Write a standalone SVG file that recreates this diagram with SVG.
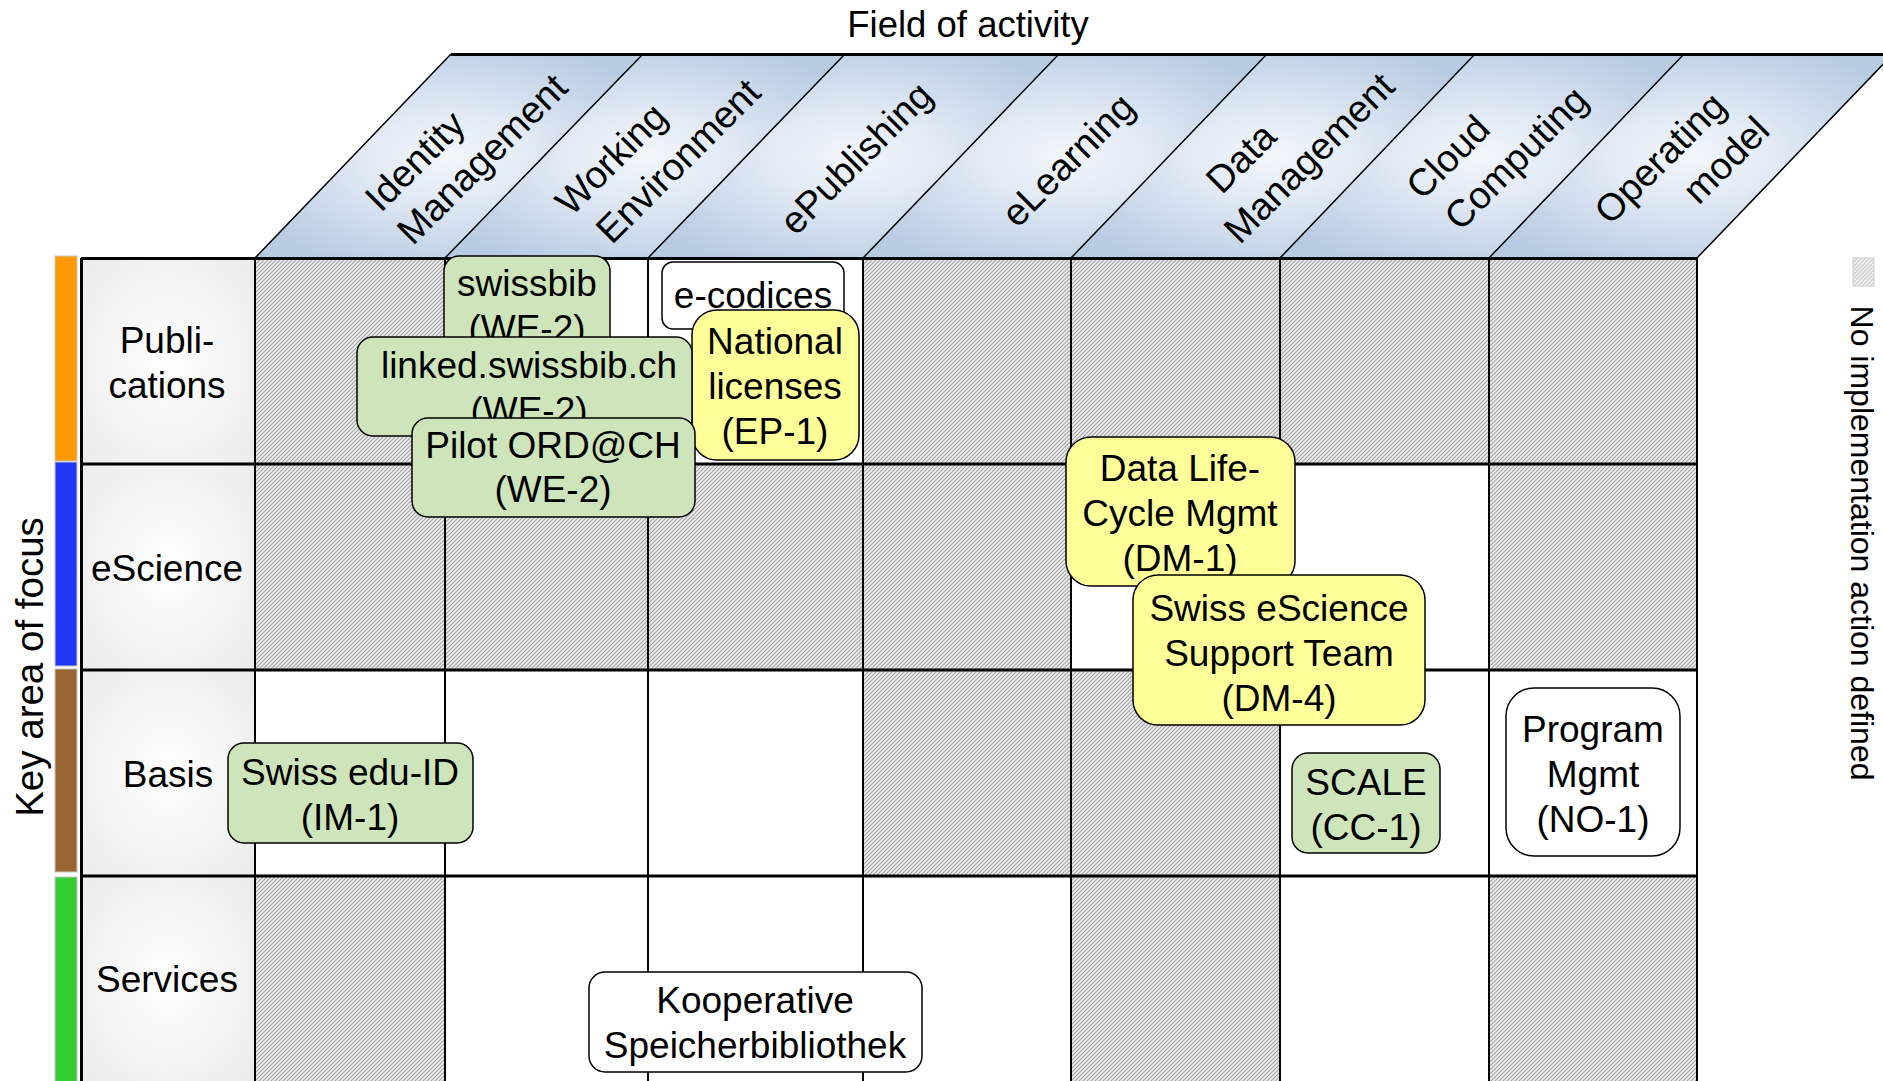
<svg xmlns="http://www.w3.org/2000/svg" width="1883" height="1081" viewBox="0 0 1883 1081">
<style>
.t{font-family:"Liberation Sans",Arial,sans-serif;fill:#000}
.n{font-size:37px;text-anchor:middle}
.h{font-size:38px;text-anchor:middle}
.box{stroke:#000;stroke-width:1.5}
.gr{fill:#cee5bb}
.ye{fill:#ffff99}
.wh{fill:#ffffff}
.hline{stroke:#000;stroke-width:3;fill:none}
.vline{stroke:#000;stroke-width:2;fill:none}
.sl{stroke:#000;stroke-width:1.5;fill:none}
.hdr{fill:url(#hdrG)}
.lbl{fill:url(#lblG)}
.hat{fill:url(#hatch)}
.bar{stroke:#c8c8c8;stroke-width:1}
</style>
<defs>
<pattern id="hatch" patternUnits="userSpaceOnUse" width="4" height="4">
<rect width="4" height="4" fill="#ededed"/>
<path d="M-1,1 L1,-1 M0,4 L4,0 M3,5 L5,3" stroke="#a6a6a6" stroke-width="1.2"/>
</pattern>
<pattern id="hatchL" patternUnits="userSpaceOnUse" width="4" height="4">
<rect width="4" height="4" fill="#f4f4f4"/>
<path d="M-1,1 L1,-1 M0,4 L4,0 M3,5 L5,3" stroke="#cfcfcf" stroke-width="1.4"/>
</pattern>
<radialGradient id="hdrG" cx="0.5" cy="0.5" r="0.6">
<stop offset="0" stop-color="#f2f6fb"/>
<stop offset="0.35" stop-color="#e2eaf5"/>
<stop offset="1" stop-color="#b7cbe3"/>
</radialGradient>
<radialGradient id="lblG" cx="0.5" cy="0.5" r="0.65">
<stop offset="0" stop-color="#ffffff"/>
<stop offset="1" stop-color="#ececec"/>
</radialGradient>
</defs>
<rect width="1883" height="1081" fill="#fff"/>

<text class="t" x="968" y="37" font-size="36.5" text-anchor="middle">Field of activity</text>

<g id="header">
<polygon class="hdr" points="255,258 445,258 643,54 451,54"/>
<polygon class="hdr" points="445,258 648,258 845,54 643,54"/>
<polygon class="hdr" points="648,258 863,258 1059,54 845,54"/>
<polygon class="hdr" points="863,258 1071,258 1267,54 1059,54"/>
<polygon class="hdr" points="1071,258 1280,258 1475,54 1267,54"/>
<polygon class="hdr" points="1280,258 1489,258 1684,54 1475,54"/>
<polygon class="hdr" points="1489,258 1697,258 1893,54 1684,54"/>
<path class="sl" d="M255,258 L451,54 M445,258 L643,54 M648,258 L845,54 M863,258 L1059,54 M1071,258 L1267,54 M1280,258 L1475,54 M1489,258 L1684,54 M1697,258 L1893,54"/>
<path class="hline" d="M451,54.5 L1883,54.5"/>
<g class="t h">
<text transform="translate(415,161) rotate(-45)" y="13">Identity</text>
<text transform="translate(482,159) rotate(-45)" y="13">Management</text>
<text transform="translate(611,159) rotate(-45)" y="13">Working</text>
<text transform="translate(678,161) rotate(-45)" y="13">Environment</text>
<text transform="translate(856,158) rotate(-45)" y="13">ePublishing</text>
<text transform="translate(1068,160) rotate(-45)" y="13">eLearning</text>
<text transform="translate(1241,158) rotate(-45)" y="13">Data</text>
<text transform="translate(1309,158) rotate(-45)" y="13">Management</text>
<text transform="translate(1448,157) rotate(-45)" y="13">Cloud</text>
<text transform="translate(1516,158) rotate(-45)" y="13">Computing</text>
<text transform="translate(1660,158) rotate(-45)" y="13">Operating</text>
<text transform="translate(1726,160) rotate(-45)" y="13">model</text>
</g>
</g>

<g id="cells">
<rect class="hat" x="255" y="258" width="190" height="206"/>
<rect class="wh" x="445" y="258" width="203" height="206"/>
<rect class="wh" x="648" y="258" width="215" height="206"/>
<rect class="hat" x="863" y="258" width="208" height="206"/>
<rect class="hat" x="1071" y="258" width="209" height="206"/>
<rect class="hat" x="1280" y="258" width="209" height="206"/>
<rect class="hat" x="1489" y="258" width="208" height="206"/>

<rect class="hat" x="255" y="464" width="190" height="206"/>
<rect class="hat" x="445" y="464" width="203" height="206"/>
<rect class="hat" x="648" y="464" width="215" height="206"/>
<rect class="hat" x="863" y="464" width="208" height="206"/>
<rect class="wh" x="1071" y="464" width="209" height="206"/>
<rect class="wh" x="1280" y="464" width="209" height="206"/>
<rect class="hat" x="1489" y="464" width="208" height="206"/>

<rect class="wh" x="255" y="670" width="190" height="206"/>
<rect class="wh" x="445" y="670" width="203" height="206"/>
<rect class="wh" x="648" y="670" width="215" height="206"/>
<rect class="hat" x="863" y="670" width="208" height="206"/>
<rect class="hat" x="1071" y="670" width="209" height="206"/>
<rect class="wh" x="1280" y="670" width="209" height="206"/>
<rect class="wh" x="1489" y="670" width="208" height="206"/>

<rect class="hat" x="255" y="876" width="190" height="210"/>
<rect class="wh" x="445" y="876" width="203" height="210"/>
<rect class="wh" x="648" y="876" width="215" height="210"/>
<rect class="wh" x="863" y="876" width="208" height="210"/>
<rect class="hat" x="1071" y="876" width="209" height="210"/>
<rect class="wh" x="1280" y="876" width="209" height="210"/>
<rect class="hat" x="1489" y="876" width="208" height="210"/>

<rect class="lbl" x="81" y="258" width="174" height="206"/>
<rect class="lbl" x="81" y="464" width="174" height="206"/>
<rect class="lbl" x="81" y="670" width="174" height="206"/>
<rect class="lbl" x="81" y="876" width="174" height="210"/>
</g>

<g id="grid">
<path class="vline" d="M445,258 V1081 M648,258 V1081 M863,258 V1081 M1071,258 V1081 M1280,258 V1081 M1489,258 V1081 M1697,258 V1081 M255,258 V1081"/>
<path class="hline" d="M81,258.5 H1697 M81,464 H1697 M81,670 H1697 M81,876 H1697 M81.5,258 V1081"/>
</g>

<g id="bars">
<rect class="bar" x="55" y="256" width="22" height="205" fill="#ff9900"/>
<rect class="bar" x="55" y="462" width="22" height="204" fill="#2236f5"/>
<rect class="bar" x="55" y="669" width="22" height="203" fill="#996633"/>
<rect class="bar" x="55" y="877" width="22" height="210" fill="#33cc33"/>
</g>

<g id="rowlabels" class="t n">
<text x="167" y="353">Publi-</text>
<text x="167" y="398">cations</text>
<text x="167" y="581">eScience</text>
<text x="168" y="787">Basis</text>
<text x="167" y="992">Services</text>
</g>

<text class="t" transform="translate(43,667) rotate(-90)" font-size="38.5" text-anchor="middle">Key area of focus</text>

<g id="legend">
<rect x="1853" y="258" width="21" height="28" fill="url(#hatchL)" stroke="#d0d0d0" stroke-width="1"/>
<text class="t" transform="translate(1851,543) rotate(90)" font-size="32" text-anchor="middle">No implementation action defined</text>
</g>

<g id="connectors"></g>

<g id="n-swissbib">
<rect class="box gr" x="444" y="256" width="166" height="94" rx="15"/>
<text class="t n" x="527" y="296">swissbib</text>
<text class="t n" x="527" y="341">(WE-2)</text>
</g>
<g id="n-ecodices">
<rect class="box wh" x="662" y="262" width="182" height="67" rx="11"/>
<text class="t n" x="753" y="308">e-codices</text>
</g>
<g id="n-national">
<rect class="box ye" x="692" y="310" width="167" height="150" rx="25"/>
<text class="t n" x="775" y="354">National</text>
<text class="t n" x="775" y="399">licenses</text>
<text class="t n" x="775" y="444">(EP-1)</text>
</g>
<g id="n-linked">
<rect class="box gr" x="357" y="337" width="335" height="99" rx="16"/>
<text class="t n" x="529" y="378">linked.swissbib.ch</text>
<text class="t n" x="529" y="423">(WE-2)</text>
</g>
<g id="n-pilot">
<rect class="box gr" x="412" y="418" width="283" height="99" rx="16"/>
<text class="t n" x="553" y="458">Pilot ORD@CH</text>
<text class="t n" x="553" y="502">(WE-2)</text>
</g>
<g id="n-dm1">
<rect class="box ye" x="1066" y="437" width="229" height="149" rx="25"/>
<text class="t n" x="1180" y="481">Data Life-</text>
<text class="t n" x="1180" y="526">Cycle Mgmt</text>
<text class="t n" x="1180" y="571">(DM-1)</text>
</g>
<g id="n-dm4">
<rect class="box ye" x="1133" y="575" width="292" height="150" rx="25"/>
<text class="t n" x="1279" y="621">Swiss eScience</text>
<text class="t n" x="1279" y="666">Support Team</text>
<text class="t n" x="1279" y="711">(DM-4)</text>
</g>
<g id="n-eduid">
<rect class="box gr" x="228" y="743" width="245" height="100" rx="16"/>
<text class="t n" x="350" y="785">Swiss edu-ID</text>
<text class="t n" x="350" y="830">(IM-1)</text>
</g>
<g id="n-scale">
<rect class="box gr" x="1292" y="753" width="148" height="100" rx="16"/>
<text class="t n" x="1366" y="795">SCALE</text>
<text class="t n" x="1366" y="840">(CC-1)</text>
</g>
<g id="n-program">
<rect class="box wh" x="1506" y="688" width="174" height="168" rx="28"/>
<text class="t n" x="1593" y="742">Program</text>
<text class="t n" x="1593" y="787">Mgmt</text>
<text class="t n" x="1593" y="832">(NO-1)</text>
</g>
<g id="n-kooperative">
<rect class="box wh" x="589" y="972" width="333" height="100" rx="16"/>
<text class="t n" x="755" y="1013">Kooperative</text>
<text class="t n" x="755" y="1058">Speicherbibliothek</text>
</g>
</svg>
